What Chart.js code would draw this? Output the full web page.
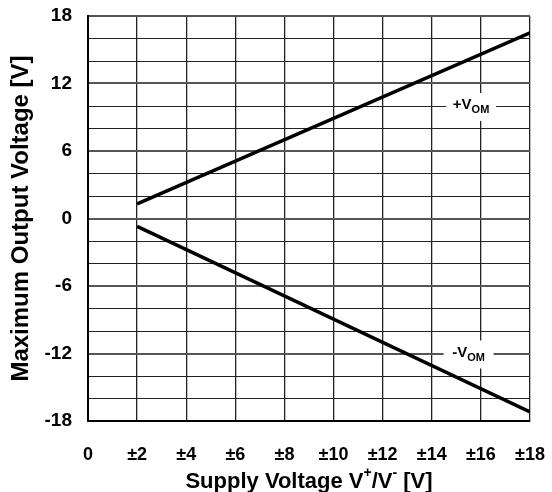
<!DOCTYPE html>
<html>
<head>
<meta charset="utf-8">
<script src="https://cdn.jsdelivr.net/npm/chart.js@4"></script>
<style>
  html, body { margin: 0; padding: 0; background: #fff; }
  #wrap { width: 552px; height: 492px; }
</style>
</head>
<body>
<div id="wrap"><canvas id="myChart" width="552" height="492"></canvas></div>
<script>
// values
const supply = [2, 18]
const vomPos = [1.3, 16.5]
const vomNeg = [-0.7, -17.2]
const xTicks = [0, 2, 4, 6, 8, 10, 12, 14, 16, 18]
const yGrid = [-18, -16, -14, -12, -10, -8, -6, -4, -2, 0, 2, 4, 6, 8, 10, 12, 14, 16, 18]
const yTicks = [-18, -12, -6, 0, 6, 12, 18]
const curveLabels = [
  { main: "+V", sub: "OM", x: 15.6, y: 10 },
  { main: "-V", sub: "OM", x: 15.5, y: -12 }
]

const FONT = "Arial, 'Liberation Sans', sans-serif"

// white boxed labels for the two curves + the axis titles
const textPlugin = {
  id: "texts",
  afterDraw(chart) {
    const c = chart.ctx
    const xs = chart.scales.x
    const ys = chart.scales.y
    c.save()
    c.fillStyle = "#000"
    c.textBaseline = "alphabetic"

    curveLabels.forEach(function (l) {
      const cx = xs.getPixelForValue(l.x)
      const cy = ys.getPixelForValue(l.y)
      c.fillStyle = "#fff"
      c.fillRect(cx - 25, cy - 13, 50, 28)
      c.fillStyle = "#000"
      c.font = "bold 15px " + FONT
      const w1 = c.measureText(l.main).width
      c.font = "bold 11px " + FONT
      const w2 = c.measureText(l.sub).width
      const start = cx - (w1 + w2) / 2
      c.font = "bold 15px " + FONT
      c.fillText(l.main, start, cy + 3)
      c.font = "bold 11px " + FONT
      c.fillText(l.sub, start + w1, cy + 7)
    })

    // x title with superscripts
    const parts = [
      ["Supply Voltage V", false],
      ["+", true],
      ["/V", false],
      ["-", true],
      [" [V]", false]
    ]
    let total = 0
    parts.forEach(function (p) {
      c.font = (p[1] ? "bold 14px " : "bold 22px ") + FONT
      total += c.measureText(p[0]).width
    })
    let px = (chart.chartArea.left + chart.chartArea.right) / 2 - total / 2
    const base = 488
    parts.forEach(function (p) {
      c.font = (p[1] ? "bold 14px " : "bold 22px ") + FONT
      c.fillText(p[0], px, p[1] ? base - 11 : base)
      px += c.measureText(p[0]).width
    })

    // y title
    c.translate(28, (chart.chartArea.top + chart.chartArea.bottom) / 2)
    c.rotate(-Math.PI / 2)
    c.textAlign = "center"
    c.font = "bold 24px " + FONT
    c.fillText("Maximum Output Voltage [V]", 0, 0)
    c.restore()
  }
}

new Chart(document.getElementById("myChart"), {
  type: "line",
  data: {
    datasets: [{
      label: "+VOM",
      data: supply.map((s, i) => ({ x: s, y: vomPos[i] })),
      borderColor: "#000",
      borderWidth: 3.5,
      pointRadius: 0,
      tension: 0
    }, {
      label: "-VOM",
      data: supply.map((s, i) => ({ x: s, y: vomNeg[i] })),
      borderColor: "#000",
      borderWidth: 3.5,
      pointRadius: 0,
      tension: 0
    }]
  },
  options: {
    responsive: false,
    animation: false,
    layout: { padding: { top: 16, right: 22, left: 0, bottom: 0 } },
    plugins: {
      legend: { display: false },
      tooltip: { enabled: false }
    },
    scales: {
      x: {
        type: "linear",
        min: 0,
        max: 18,
        afterFit: function (s) {
          s.height = 71
          s.paddingLeft = 0
          s.paddingRight = 0
        },
        afterBuildTicks: function (s) { s.ticks = xTicks.map(v => ({ value: v })) },
        border: { color: "#000", width: 2 },
        grid: { color: "#222", lineWidth: 1.3, drawTicks: false },
        ticks: {
          padding: 23,
          autoSkip: false,
          maxRotation: 0,
          color: "#000",
          font: { family: FONT, size: 18, weight: "bold" },
          callback: function (v) { return v === 0 ? "0" : "±" + v }
        }
      },
      y: {
        min: -18,
        max: 18,
        afterFit: function (s) {
          s.width = 88
          s.paddingTop = 0
          s.paddingBottom = 0
        },
        afterBuildTicks: function (s) { s.ticks = yGrid.map(v => ({ value: v })) },
        border: { color: "#000", width: 2 },
        grid: {
          drawTicks: false,
          color: function (ctx) { return ctx.tick.value % 6 === 0 ? "#555" : "#222" },
          lineWidth: function (ctx) { return ctx.tick.value % 6 === 0 ? 2 : 1 }
        },
        ticks: {
          padding: 16,
          autoSkip: false,
          color: "#000",
          font: { family: FONT, size: 19, weight: "bold" },
          callback: function (v) { return yTicks.includes(v) ? String(v) : "" }
        }
      }
    }
  },
  plugins: [textPlugin]
})
</script>
</body>
</html>
